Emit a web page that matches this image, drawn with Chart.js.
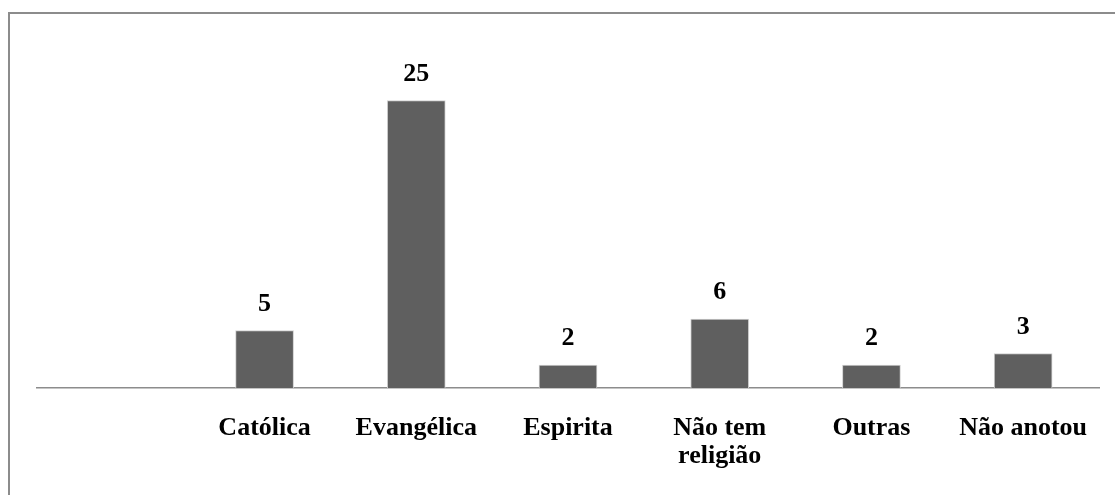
<!DOCTYPE html>
<html>
<head>
<meta charset="utf-8">
<script src="https://cdn.jsdelivr.net/npm/chart.js@4/dist/chart.umd.min.js"></script>
<style>
  body { margin: 0; background: #fff; }
  #frame {
    position: absolute; left: 8px; top: 12px; width: 1107px; height: 483px;
    border-left: 2px solid #8c8c8c; border-top: 2px solid #8c8c8c;
  }
  #chart { position: absolute; left: 0; top: 0; }
</style>
</head>
<body>
<div id="frame"></div>
<canvas id="chart" width="1115" height="495"></canvas>
<script>
const categories = ["", "Católica", "Evangélica", "Espirita", ["Não tem", "religião"], "Outras", "Não anotou"];
const counts = [null, 5, 25, 2, 6, 2, 3];

const labelFont = { family: "'Liberation Serif', 'Times New Roman', serif", size: 26, weight: "bold", lineHeight: 1.09 };

// value labels above each bar
const valueLabels = {
  id: "valueLabels",
  afterDatasetsDraw(chart) {
    const ctx = chart.ctx;
    const meta = chart.getDatasetMeta(0);
    ctx.save();
    ctx.font = "bold 26px 'Liberation Serif', 'Times New Roman', serif";
    ctx.fillStyle = "#000";
    ctx.textAlign = "center";
    ctx.textBaseline = "alphabetic";
    meta.data.forEach((bar, i) => {
      const v = counts[i];
      if (v === null) return;
      ctx.fillText(String(v), bar.x, bar.y - 20);
    });
    ctx.restore();
  },
};

const ctx = document.getElementById("chart").getContext("2d");
new Chart(ctx, {
  type: "bar",
  data: {
    labels: categories,
    datasets: [
      {
        data: counts,
        backgroundColor: "#5f5f5f",
        borderColor: "#cfcfcf",
        borderWidth: 1,
        borderSkipped: "bottom",
        barThickness: 58,
        categoryPercentage: 1,
      },
    ],
  },
  options: {
    responsive: false,
    animation: false,
    layout: { padding: { left: 37, right: 16, top: 43, bottom: 0 } },
    plugins: { legend: { display: false }, tooltip: { enabled: false } },
    scales: {
      x: {
        grid: { display: false, drawTicks: false },
        border: { display: true, color: "#8c8c8c", width: 1.5 },
        ticks: { color: "#000", font: labelFont, padding: 26, maxRotation: 0, autoSkip: false },
        afterFit(scale) { scale.height = 107; },
      },
      y: { display: false, min: 0, max: 30 },
    },
  },
  plugins: [valueLabels],
});
</script>
</body>
</html>
